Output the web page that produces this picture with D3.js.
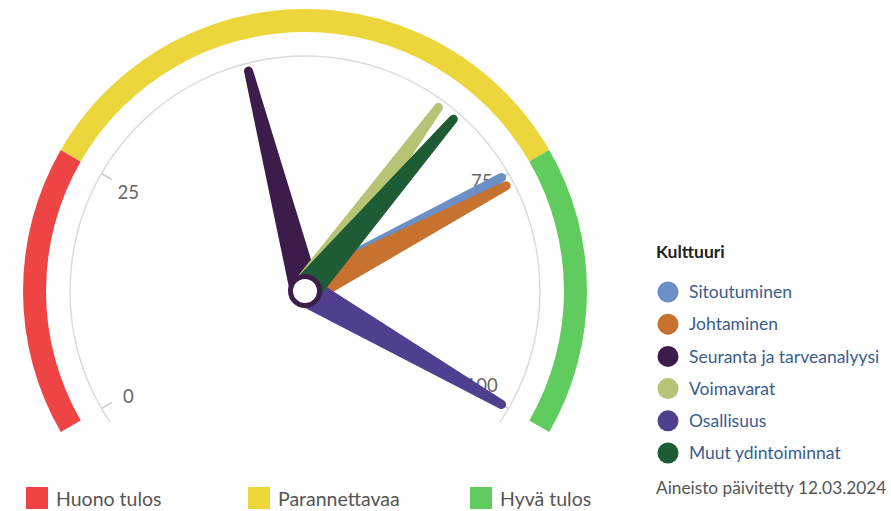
<!DOCTYPE html>
<meta charset="utf-8">
<style>
body {
  margin: 0;
  background-color: #fff;
}
svg text {
  font-family: Lato, "Open Sans", sans-serif;
}
</style>
<svg class="gauge" width="891" height="511"></svg>

<script src="https://cdn.jsdelivr.net/npm/d3@7/dist/d3.min.js"></script>
<script>
// data
var categories = ["Sitoutuminen", "Johtaminen", "Seuranta ja tarveanalyysi", "Voimavarat", "Osallisuus", "Muut ydintoiminnat"];
var values = [75, 76, 44, 65, 100, 67];
var seriesColors = ["#6b8fc6", "#c8722f", "#3b1c4b", "#b7c475", "#4f3f8e", "#1d5c35"];

var bandNames = ["Huono tulos", "Parannettavaa", "Hyvä tulos"];
var bandFrom = [0, 25, 75];
var bandTo = [25, 75, 100];
var bandColors = ["#ef4444", "#ecd63c", "#5fcc5d"];

var tickValues = [0, 25, 75, 100];
var legendTitle = "Kulttuuri";
var footnote = "Aineisto päivitetty 12.03.2024";

var svg = d3.select(".gauge"),
    cx = 305,
    cy = 291;

svg.append("rect").attr("width", 891).attr("height", 511).attr("fill", "#fff");

var angle = d3.scaleLinear().domain([0, 100]).range([-120, 120]);
var rad = function(v) { return angle(v) * Math.PI / 180; };

var g = svg.append("g")
    .attr("transform", "translate(" + cx + "," + cy + ")");

// coloured bands
var band = d3.arc().innerRadius(259).outerRadius(282);
g.selectAll(".band")
    .data(bandNames)
  .enter().append("path")
    .attr("class", "band")
    .attr("fill", function(d, i) { return bandColors[i]; })
    .attr("d", function(d, i) {
      return band({startAngle: rad(bandFrom[i]), endAngle: rad(bandTo[i])});
    });

// axis line
var axisR = 235;
g.append("path")
    .attr("fill", "none")
    .attr("stroke", "#dcdcdc")
    .attr("stroke-width", 1.5)
    .attr("d", d3.arc().innerRadius(axisR).outerRadius(axisR)({startAngle: -124 * Math.PI / 180, endAngle: 124 * Math.PI / 180}));

g.selectAll(".tick")
    .data(tickValues)
  .enter().append("line")
    .attr("class", "tick")
    .attr("stroke", "#cfcfcf")
    .attr("stroke-width", 1.5)
    .attr("x1", function(d) { return axisR * Math.sin(rad(d)); })
    .attr("y1", function(d) { return -axisR * Math.cos(rad(d)); })
    .attr("x2", function(d) { return (axisR - 12) * Math.sin(rad(d)); })
    .attr("y2", function(d) { return -(axisR - 12) * Math.cos(rad(d)); });

// labels on the right sit a bit higher than on the left
g.selectAll(".tickLabel")
    .data(tickValues)
  .enter().append("text")
    .attr("class", "tickLabel")
    .attr("fill", "#666")
    .style("font-size", "18.5px")
    .attr("text-anchor", "middle")
    .attr("dominant-baseline", "central")
    .attr("x", function(d) { return 204 * Math.sin(rad(d)); })
    .attr("y", function(d) { return -204 * Math.cos(rad(d)) + (d > 50 ? -8 : 3); })
    .text(function(d) { return d; });

// needles
var needleLen = 227, baseW = 30, topW = 9;
var needles = g.selectAll(".needle")
    .data(values)
  .enter().append("g")
    .attr("class", "needle")
    .attr("transform", function(d) { return "rotate(" + angle(d) + ")"; });

needles.append("path")
    .attr("fill", function(d, i) { return seriesColors[i]; })
    .attr("d", "M" + (-baseW / 2) + ",0L" + (-topW / 2) + "," + (-needleLen) +
               "A" + (topW / 2) + "," + (topW / 2) + " 0 0 1 " + (topW / 2) + "," + (-needleLen) +
               "L" + (baseW / 2) + ",0Z");

// pivot
g.append("circle")
    .attr("r", 14.5)
    .attr("fill", "#fff")
    .attr("stroke", "#3b1c4b")
    .attr("stroke-width", 5);

// series legend
var leg = svg.append("g").attr("transform", "translate(656,0)");
leg.append("text")
    .attr("x", 0)
    .attr("y", 258)
    .attr("fill", "#222")
    .style("font-size", "17.5px")
    .style("font-weight", "bold")
    .text(legendTitle);

var items = leg.selectAll(".item")
    .data(categories)
  .enter().append("g")
    .attr("class", "item")
    .attr("transform", function(d, i) { return "translate(0," + (292 + i * 32.2) + ")"; });
items.append("circle")
    .attr("cx", 12)
    .attr("r", 10.5)
    .attr("fill", function(d, i) { return seriesColors[i]; });
items.append("text")
    .attr("x", 33)
    .attr("dy", "0.35em")
    .attr("fill", "#3a5d8f")
    .style("font-size", "17.5px")
    .text(function(d) { return d; });

leg.append("text")
    .attr("x", 0)
    .attr("y", 494)
    .attr("fill", "#555")
    .style("font-size", "17.3px")
    .text(footnote);

// band legend
var bandX = [26, 248, 470];
var bl = svg.selectAll(".bandLegend")
    .data(bandNames)
  .enter().append("g")
    .attr("class", "bandLegend")
    .attr("transform", function(d, i) { return "translate(" + bandX[i] + ",487)"; });
bl.append("rect")
    .attr("width", 22)
    .attr("height", 22)
    .attr("fill", function(d, i) { return bandColors[i]; });
bl.append("text")
    .attr("x", 30)
    .attr("y", 18.5)
    .attr("fill", "#555")
    .style("font-size", "19.5px")
    .text(function(d) { return d; });
</script>
